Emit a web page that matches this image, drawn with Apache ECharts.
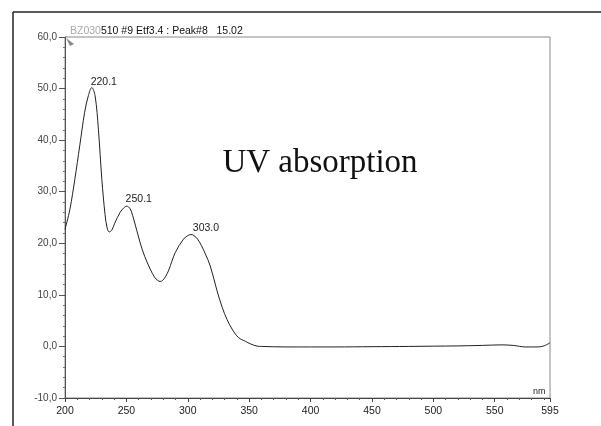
<!DOCTYPE html>
<html>
<head>
<meta charset="utf-8">
<script src="https://cdn.jsdelivr.net/npm/echarts@6/dist/echarts.min.js"></script>
<style>html,body{margin:0;padding:0;background:#fff;}#c{width:601px;height:426px;}</style>
</head>
<body>
<div id="c"></div>
<script>
var wavelength = [200,204,208,212,216,219,221.8,224.5,227.2,230,232.6,234.3,236,238,240.5,244.9,248,250.3,253,255.7,261.2,265,269.4,273,275.5,277.5,279.5,282,284.5,289.8,296.5,300,302.6,305,308,311,314,318.3,323.8,328,332,336.5,341.4,346.9,351,356.4,360,380,400,420,450,480,500,520,540,555,565,575,585,590,595];
var absorbance = [22.7,26.6,32.4,38.9,45.4,48.6,50.2,48.6,42.1,32.4,25.6,23.0,22.2,22.5,23.9,26.0,26.9,27.2,26.7,24.9,20.1,17.4,15.0,13.4,12.8,12.6,12.8,13.6,14.8,18.2,20.8,21.5,21.7,21.5,20.8,19.6,18.1,15.6,10.8,7.6,5.2,3.2,1.7,1.0,0.5,0.06,0.0,-0.1,-0.1,-0.1,-0.05,0.0,0.05,0.1,0.2,0.3,0.2,-0.1,-0.1,0.1,0.7];
var peakLabels = ["220.1","250.1","303.0"];
var peakX = [221.8,250.3,302.6];
var peakY = [50.2,27.2,21.7];
var yTicks = [-10,0,10,20,30,40,50,60];
var xTicks = [200,250,300,350,400,450,500,550,595];

var chart = echarts.init(document.getElementById('c'));
var pts = wavelength.map(function(w,i){return [w,absorbance[i]];});
var peakOffsets = [[12,-5],[12,-7],[15,-6]];
var mp = peakLabels.map(function(t,i){
  return {coord:[peakX[i],peakY[i]], value:t,
    label:{show:true, formatter:t, offset:peakOffsets[i], position:'inside'}};
});
chart.setOption({
  animation:false,
  backgroundColor:'#fff',
  grid:{left:65,right:51,top:37,bottom:28,show:true,borderColor:'#8a8a8a',borderWidth:1,backgroundColor:'transparent'},
  xAxis:{type:'value',min:200,max:595,interval:50,
    axisLine:{onZero:false,lineStyle:{color:'#444',width:1}},
    axisTick:{show:true,length:4,inside:false,lineStyle:{color:'#444'}},
    minorTick:{show:true,splitNumber:5,length:2,lineStyle:{color:'#555'}},
    splitLine:{show:false},
    axisLabel:{color:'#222',fontSize:10.5,fontFamily:'Liberation Sans, Arial',margin:8,showMaxLabel:true}
  },
  yAxis:{type:'value',min:-10,max:60,interval:10,
    axisLine:{show:true,onZero:false,lineStyle:{color:'#555',width:1}},
    axisTick:{show:true,length:6,lineStyle:{color:'#555'}},
    minorTick:{show:true,splitNumber:5,length:2,lineStyle:{color:'#777'}},
    splitLine:{show:false},
    axisLabel:{color:'#444',fontSize:10,fontFamily:'Liberation Sans, Arial',margin:8,
      formatter:function(v){return v.toFixed(1).replace('.',',');}}
  },
  series:[{type:'line',data:pts,smooth:0.35,showSymbol:false,symbol:'none',
    lineStyle:{color:'#222',width:1},
    markPoint:{symbol:'circle',symbolSize:0,silent:true,
      label:{color:'#222',fontSize:10.5,fontFamily:'Liberation Sans, Arial'},
      data:mp}
  }],
  graphic:[
    {type:'line',shape:{x1:13,y1:12,x2:601,y2:12},style:{stroke:'#222',lineWidth:1.5}},
    {type:'line',shape:{x1:13,y1:12,x2:13,y2:426},style:{stroke:'#222',lineWidth:1.5}},
    {type:'text',left:70,top:26,style:{text:'{a|BZ030}{b|510 #9 Etf3.4 : Peak#8   15.02}',
      rich:{a:{fill:'#aaa',fontSize:10.5,fontFamily:'Liberation Sans, Arial'},b:{fill:'#111',fontSize:10.5,fontFamily:'Liberation Sans, Arial'}}}},
    {type:'text',style:{x:320,y:163,align:'center',verticalAlign:'middle',text:'UV absorption',fill:'#111',fontSize:33,fontFamily:'Liberation Serif, Times New Roman, serif'}},
    {type:'text',left:533,top:387,style:{text:'nm',fill:'#222',fontSize:9,fontFamily:'Liberation Sans, Arial'}},
    {type:'polygon',shape:{points:[[66,38],[74,44],[70,46]]},style:{fill:'#888'}}
  ]
});
</script>
</body>
</html>
